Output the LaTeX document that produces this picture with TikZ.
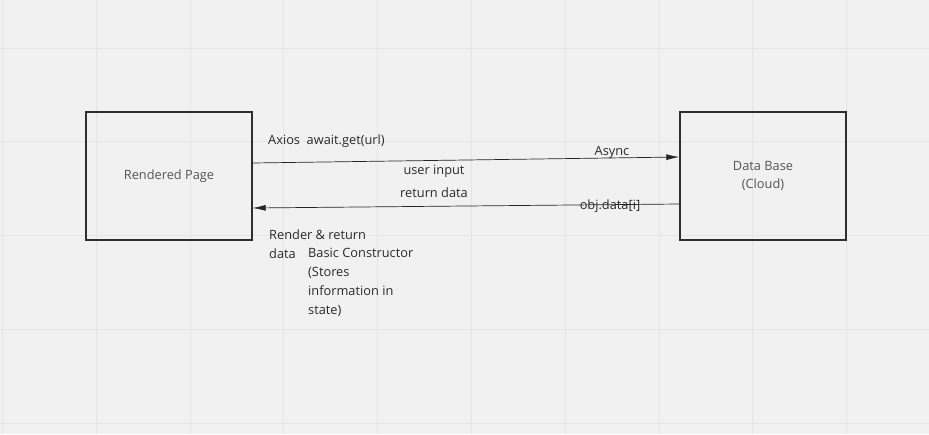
\documentclass[tikz,border=0pt]{standalone}
\usepackage{fontspec}
\setmainfont{Open Sans}
\usetikzlibrary{arrows.meta,calc}
\definecolor{bg}{HTML}{F1F1F1}
\definecolor{gridc}{HTML}{E5E5E5}
\definecolor{boxc}{HTML}{2E2E2E}
\definecolor{inner}{HTML}{555555}
\definecolor{labc}{HTML}{2A2A2A}
\tikzset{
  box/.style={draw=boxc, line width=1.4pt, minimum width=166pt, minimum height=128pt, inner sep=0pt, text=inner, align=center, font=\fontsize{12.8pt}{18pt}\selectfont},
  lab/.style={text=labc, inner sep=0pt, font=\fontsize{12.8pt}{19pt}\selectfont, align=left},
  conn/.style={draw=black!85, line width=0.7pt, -{Latex[length=13pt,width=6pt]}}
}
\begin{document}
\begin{tikzpicture}[x=1pt,y=-1pt]
\fill[bg] (0,0) rectangle (929,434);
\useasboundingbox (0,0) rectangle (929,434);
\foreach \i in {0,...,9} {
  \draw[gridc, line width=1pt] ({2.5+93.8*\i},0) -- ({2.5+93.8*\i},434);
}
\foreach \j in {1,...,5} {
  \draw[gridc, line width=1pt] (0,{-45.7+93.75*\j}) -- (929,{-45.7+93.75*\j});
}
\node[box] (L) at (169,176) {Rendered Page};
\node[box] (R) at (763,176) {Data Base\\(Cloud)};
\coordinate (a1s) at ([yshift=13pt]L.east);
\coordinate (a1e) at ([yshift=19pt]R.west);
\coordinate (a2s) at ([yshift=-28pt]R.west);
\coordinate (a2e) at ([yshift=-32pt]L.east);
\draw[conn] (a1s) -- (a1e);
\draw[conn] (a2s) -- (a2e);
\node[lab, anchor=west] (t1) at (268,141.5) {Axios\ \ await.get(url)};
\node[lab] (t2) at (612,152.5) {Async};
\node[lab] (t3) at (434,171) {user input};
\node[lab] (t4) at (434,192.5) {return data};
\node[lab] (t5) at (610,206.5) {obj.data[i]};
\node[lab, anchor=north west] (t6) at (269,229.5) {Render \& return\\data};
\node[lab, anchor=north west] (t7) at (308,248) {Basic Constructor\\(Stores\\information in\\state)};
\end{tikzpicture}
\end{document}
